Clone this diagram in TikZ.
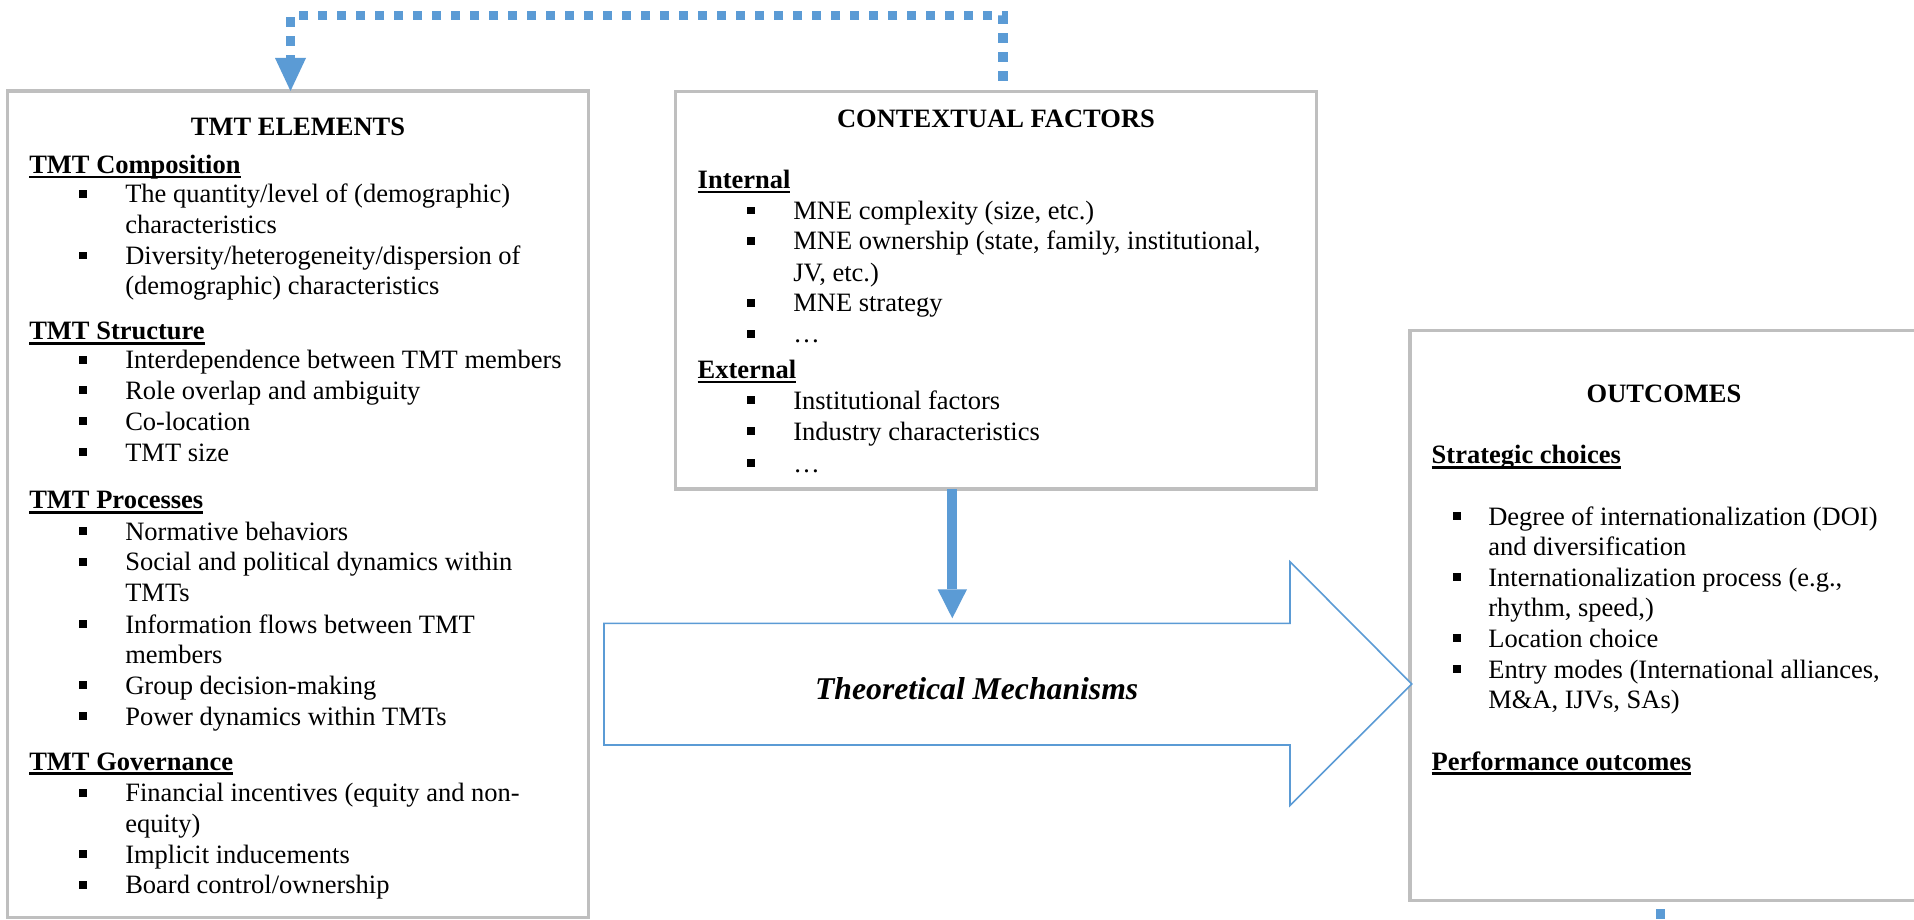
\documentclass[tikz,border=0pt]{standalone}
\usepackage{fontspec}
\setmainfont{Liberation Serif}
\usetikzlibrary{arrows.meta}
\definecolor{boxgray}{RGB}{191,191,191}
\definecolor{accblue}{RGB}{91,155,213}
\newcommand\ulbf[1]{\setbox0=\hbox{\bfseries #1}\rlap{\rule[-5pt]{\wd0}{2.7pt}}\box0}
\newcommand\ItL[5]{%
  \node[bul] (#1b) at (#2,#4-8.8) {};
  \node[txt] (#1) at (#3,#4) {#5};}
\newcommand\CtL[4]{\node[txt] (#1) at (#2,#3) {#4};}
\newcommand\HdL[4]{\node[txt] (#1) at (#2,#3) {\ulbf{#4}};}
\tikzset{
  txt/.style={anchor=base west, inner sep=0pt, outer sep=0pt, font=\fontsize{26.5}{30.5}\selectfont},
  ctitle/.style={anchor=base, inner sep=0pt, outer sep=0pt, font=\fontsize{26.5}{30.5}\selectfont\bfseries},
  bul/.style={rectangle, fill=black, minimum size=7.8pt, inner sep=0pt, outer sep=0pt},
  panel/.style={draw=boxgray, line width=3.3pt, rectangle, anchor=north west, inner sep=0pt, outer sep=0pt},
  fbline/.style={draw=accblue, line width=9.5pt, dash pattern=on 9.5pt off 9.5pt},
  fbarrow/.style={fbline, -{Triangle[width=31pt,length=33pt,line width=0pt]}},
  thickarr/.style={draw=accblue, line width=10pt, -{Triangle[width=29.4pt,length=29pt,line width=0pt]}},
  mechshape/.style={draw=accblue, line width=1.6pt, fill=white, line join=miter},
  mechtext/.style={anchor=base, inner sep=0pt, outer sep=0pt, font=\fontsize{31.7}{36}\selectfont\bfseries\itshape}
}
\begin{document}
\begin{tikzpicture}[x=1pt,y=-1pt]
\useasboundingbox (0,0) rectangle (1914,920);
\fill[white] (0,0) rectangle (1914,920);
\clip (0,0) rectangle (1914,920);

% panels
\node[panel, minimum width=581.2pt, minimum height=826.5pt] (tmt) at (7.3,91) {};
\node[panel, minimum width=641pt, minimum height=397.3pt] (ctx) at (675.5,91.7) {};
\node[panel, minimum width=540pt, minimum height=570.5pt] (out) at (1410,330.2) {};

% big arrow (theoretical mechanisms)
\coordinate (ma1) at (604,623.3);
\coordinate (ma2) at (1290,623.3);
\coordinate (ma3) at (1290,561.7);
\coordinate (ma4) at (1411.7,684);
\coordinate (ma5) at (1290,805.5);
\coordinate (ma6) at (1290,745);
\coordinate (ma7) at (604,745);
\draw[mechshape] (ma1) -- (ma2) -- (ma3) -- (ma4) -- (ma5) -- (ma6) -- (ma7) -- cycle;
\node[mechtext] (mechtxt) at (976.7,699.3) {Theoretical Mechanisms};

% contextual -> mechanisms arrow
\coordinate (mtop) at (952.3,618.3);
\draw[thickarr] (ctx.south -| mtop) -- (mtop);

% feedback dotted connector
\coordinate (fbs) at (1003,80.7);
\coordinate (fbc) at (290.5,15.7);
\draw[fbarrow] (fbs) |- (fbc) -- (fbc |- tmt.north);
\coordinate (fbb1) at (1660.5,909);
\coordinate (fbb2) at (1660.5,940);
\draw[fbline] (fbb1) -- (fbb2);

% TMT ELEMENTS
\node[ctitle] (tmttitle) at (298,136) {TMT ELEMENTS};
\HdL{tmtcomp}{29.3}{173.5}{TMT Composition}
\ItL{tc1}{83.2}{125.3}{203}{The quantity/level of (demographic)}
\CtL{tc1x}{125.3}{233.5}{characteristics}
\ItL{tc2}{83.2}{125.3}{264.3}{Diversity/heterogeneity/dispersion of}
\CtL{tc2x}{125.3}{294.5}{(demographic) characteristics}
\HdL{tmtstr}{29.3}{339.5}{TMT Structure}
\ItL{ts1}{83.2}{125.3}{368.5}{Interdependence between TMT members}
\ItL{ts2}{83.2}{125.3}{399}{Role overlap and ambiguity}
\ItL{ts3}{83.2}{125.3}{430}{Co-location}
\ItL{ts4}{83.2}{125.3}{461}{TMT size}
\HdL{tmtproc}{29.3}{508.5}{TMT Processes}
\ItL{tp1}{83.2}{125.3}{540}{Normative behaviors}
\ItL{tp2}{83.2}{125.3}{570.5}{Social and political dynamics within}
\CtL{tp2x}{125.3}{601.5}{TMTs}
\ItL{tp3}{83.2}{125.3}{633}{Information flows between TMT}
\CtL{tp3x}{125.3}{663.5}{members}
\ItL{tp4}{83.2}{125.3}{694}{Group decision-making}
\ItL{tp5}{83.2}{125.3}{725}{Power dynamics within TMTs}
\HdL{tmtgov}{29.3}{770}{TMT Governance}
\ItL{tg1}{83.2}{125.3}{801.5}{Financial incentives (equity and non-}
\CtL{tg1x}{125.3}{832}{equity)}
\ItL{tg2}{83.2}{125.3}{863}{Implicit inducements}
\ItL{tg3}{83.2}{125.3}{893.5}{Board control/ownership}

% CONTEXTUAL FACTORS
\node[ctitle] (ctxtitle) at (996,127.7) {CONTEXTUAL FACTORS};
\HdL{ctxint}{697.7}{188.3}{Internal}
\ItL{ci1}{751}{793.3}{219.3}{MNE complexity (size, etc.)}
\ItL{ci2}{751}{793.3}{250}{MNE ownership (state, family, institutional,}
\CtL{ci2x}{793.3}{281}{JV, etc.)}
\ItL{ci3}{751}{793.3}{311.7}{MNE strategy}
\ItL{ci4}{751}{793.3}{342.5}{…}
\HdL{ctxext}{697.7}{378.3}{External}
\ItL{ce1}{751}{793.3}{409}{Institutional factors}
\ItL{ce2}{751}{793.3}{440}{Industry characteristics}
\ItL{ce3}{751}{793.3}{472}{…}

% OUTCOMES
\node[ctitle] (outtitle) at (1664,402) {OUTCOMES};
\HdL{outstr}{1431.7}{463.5}{Strategic choices}
\ItL{os1}{1457}{1488.3}{525}{Degree of internationalization (DOI)}
\CtL{os1x}{1488.3}{555.5}{and diversification}
\ItL{os2}{1457}{1488.3}{586}{Internationalization process (e.g.,}
\CtL{os2x}{1488.3}{616.5}{rhythm, speed,)}
\ItL{os3}{1457}{1488.3}{647}{Location choice}
\ItL{os4}{1457}{1488.3}{678}{Entry modes (International alliances,}
\CtL{os4x}{1488.3}{708.5}{M\&A, IJVs, SAs)}
\HdL{outperf}{1431.7}{770}{Performance outcomes}
\end{tikzpicture}
\end{document}
